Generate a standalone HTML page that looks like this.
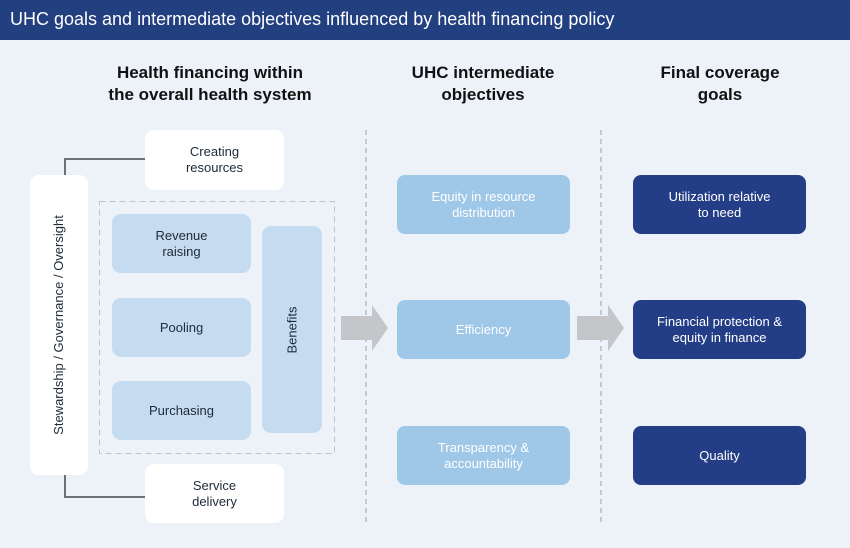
<!DOCTYPE html>
<html><head><style>
body{margin:0;width:850px;height:548px;background:#edf2f9;font-family:"Liberation Sans",sans-serif;position:relative;overflow:hidden}
.a{position:absolute;display:flex;align-items:center;justify-content:center;text-align:center;box-sizing:border-box}
.w{background:#fff;border-radius:9px;color:#1e2a3a;font-size:13px;line-height:16px}
.l{background:#c4dbf0;border-radius:9px;color:#1e2a3a;font-size:13px;line-height:16px}
.m{background:#9fc7e8;border-radius:8px;color:#fff;font-size:13px;line-height:16px}
.d{background:#233e86;border-radius:8px;color:#fff;font-size:13px;line-height:16px}
.h{font-weight:bold;font-size:17px;line-height:22px;color:#111}
</style></head><body>
<div style="position:absolute;left:0;top:0;width:850px;height:40px;background:#223f80"></div>
<div style="position:absolute;left:10px;top:9px;color:#fff;font-size:18px">UHC goals and intermediate objectives influenced by health financing policy</div>
<div class="a h" style="left:90px;top:62px;width:240px;height:44px">Health financing within<br>the overall health system</div>
<div class="a h" style="left:383px;top:62px;width:200px;height:44px">UHC intermediate<br>objectives</div>
<div class="a h" style="left:620px;top:62px;width:200px;height:44px">Final coverage<br>goals</div>
<svg style="position:absolute;left:0;top:0" width="850" height="548">
<line x1="366" y1="130" x2="366" y2="525" stroke="#9aa3ad" stroke-dasharray="5,4"/>
<line x1="601" y1="130" x2="601" y2="525" stroke="#9aa3ad" stroke-dasharray="5,4"/>
<polyline points="65,175 65,159 145,159" fill="none" stroke="#6b7079" stroke-width="2"/>
<polyline points="65,475 65,497 145,497" fill="none" stroke="#6b7079" stroke-width="2"/>
<rect x="99.5" y="201.5" width="235" height="252" fill="none" stroke="#bcc4ce" stroke-dasharray="6,4"/>
<polygon points="341,316 372,316 372,305 388,328 372,351 372,340 341,340" fill="#c4c6c9"/>
<polygon points="577,316 608,316 608,305 624,328 608,351 608,340 577,340" fill="#c4c6c9"/>
</svg>
<div class="a w" style="left:145px;top:130px;width:139px;height:60px">Creating<br>resources</div>
<div class="a w" style="left:145px;top:464px;width:139px;height:59px">Service<br>delivery</div>
<div class="a w" style="left:30px;top:175px;width:58px;height:300px"><span style="transform:rotate(-90deg);white-space:nowrap">Stewardship / Governance / Oversight</span></div>
<div class="a l" style="left:112px;top:214px;width:139px;height:59px">Revenue<br>raising</div>
<div class="a l" style="left:112px;top:298px;width:139px;height:59px">Pooling</div>
<div class="a l" style="left:112px;top:381px;width:139px;height:59px">Purchasing</div>
<div class="a l" style="left:262px;top:226px;width:60px;height:207px"><span style="transform:rotate(-90deg)">Benefits</span></div>
<div class="a m" style="left:397px;top:175px;width:173px;height:59px">Equity in resource<br>distribution</div>
<div class="a m" style="left:397px;top:300px;width:173px;height:59px">Efficiency</div>
<div class="a m" style="left:397px;top:426px;width:173px;height:59px">Transparency &amp;<br>accountability</div>
<div class="a d" style="left:633px;top:175px;width:173px;height:59px">Utilization relative<br>to need</div>
<div class="a d" style="left:633px;top:300px;width:173px;height:59px">Financial protection &amp;<br>equity in finance</div>
<div class="a d" style="left:633px;top:426px;width:173px;height:59px">Quality</div>
</body></html>
